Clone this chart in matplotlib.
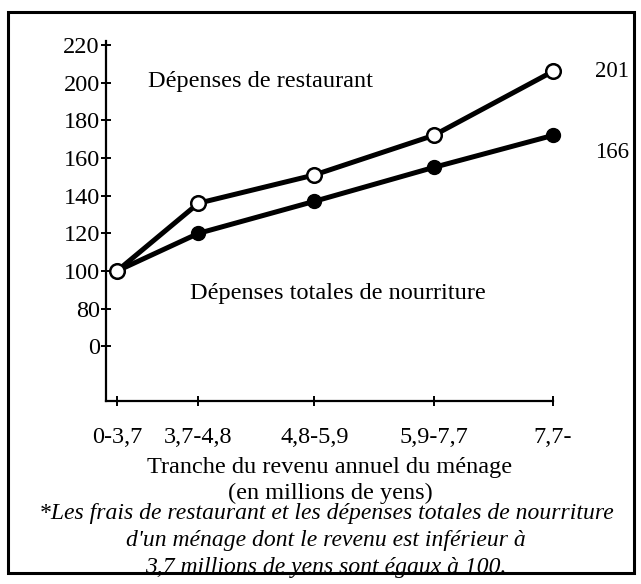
import matplotlib
matplotlib.use("Agg")
import matplotlib.pyplot as plt
from matplotlib.patches import Rectangle

# -------------------------
# Data
# -------------------------
income_labels = ["0-3,7", "3,7-4,8", "4,8-5,9", "5,9-7,7", "7,7-"]
income_pos = [0, 0.71, 1.72, 2.76, 3.8]
restaurant = [100, 136, 151, 172, 206]
total_food = [100, 120, 137, 155, 172]
end_labels = ["201", "166"]

ytick_vals = [60, 80, 100, 120, 140, 160, 180, 200, 220]
ytick_labels = ["0", "80", "100", "120", "140", "160", "180", "200", "220"]

plt.rcParams["font.family"] = ["Liberation Serif", "DejaVu Serif"]

W, H = 641, 584
fig = plt.figure(figsize=(W / 100, H / 100), dpi=100)


def px(x, y):
    # pixel (from top-left) -> figure fraction
    return x / W, 1 - y / H


# outer frame
fig.patches.append(Rectangle(px(8, 573), 626 / W, 561 / H, transform=fig.transFigure,
                             fill=False, lw=2.2, ec="black"))

# -------------------------
# Axes
# -------------------------
ax_left, ax_right, ax_top, ax_bottom = 106, 630, 38, 401
ax = fig.add_axes([ax_left / W, 1 - ax_bottom / H,
                   (ax_right - ax_left) / W, (ax_bottom - ax_top) / H])

scale = (553 - 117) / income_pos[-1]
ax.set_xlim(-(117 - ax_left) / scale, income_pos[-1] + (ax_right - 553) / scale)
ax.set_ylim(31, 223.7)

ax.plot(income_pos, total_food, color="black", lw=3.6, marker="o", ms=10,
        mfc="black", mec="black", zorder=3)
ax.plot(income_pos, restaurant, color="black", lw=3.6, marker="o", ms=10.5,
        mfc="white", mec="black", mew=1.8, zorder=4)

for spine in ["top", "right"]:
    ax.spines[spine].set_visible(False)
ax.spines["left"].set_linewidth(1.6)
ax.spines["bottom"].set_linewidth(1.6)
ax.spines["bottom"].set_bounds(ax.get_xlim()[0], income_pos[-1])
ax.spines["left"].set_bounds(31, 222)

ax.set_xticks(income_pos)
ax.set_xticklabels(income_labels)
ax.set_yticks(ytick_vals)
ax.set_yticklabels(ytick_labels)
ax.tick_params(direction="inout", length=7, width=1.4, labelsize=17.5)
ax.tick_params(axis="x", pad=15)
ax.tick_params(axis="y", pad=1)

# end-point values
ax.annotate(end_labels[0], (income_pos[-1], restaurant[-1]), xytext=(30, 0),
            textcoords="offset points", va="center", ha="left", fontsize=16.5)
ax.annotate(end_labels[1], (income_pos[-1], total_food[-1]), xytext=(30, -12),
            textcoords="offset points", va="center", ha="left", fontsize=16.5)

# series names
fig.text(*px(148, 82), "Dépenses de restaurant", fontsize=17.5, va="center", ha="left")
fig.text(*px(190, 293), "Dépenses totales de nourriture", fontsize=17.5, va="center", ha="left")

# x label
fig.text(*px(330, 468), "Tranche du revenu annuel du ménage", fontsize=17.5, ha="center", va="center")
fig.text(*px(330, 493), "(en millions de yens)", fontsize=17.5, ha="center", va="center")

# footnote
note = ["*Les frais de restaurant et les dépenses totales de nourriture",
        "d'un ménage dont le revenu est inférieur à",
        "3,7 millions de yens sont égaux à 100."]
for i, line in enumerate(note):
    fig.text(*px(326, 514 + i * 26.5), line, fontsize=17, style="italic",
             ha="center", va="center")

fig.savefig("out.png", dpi=100)
